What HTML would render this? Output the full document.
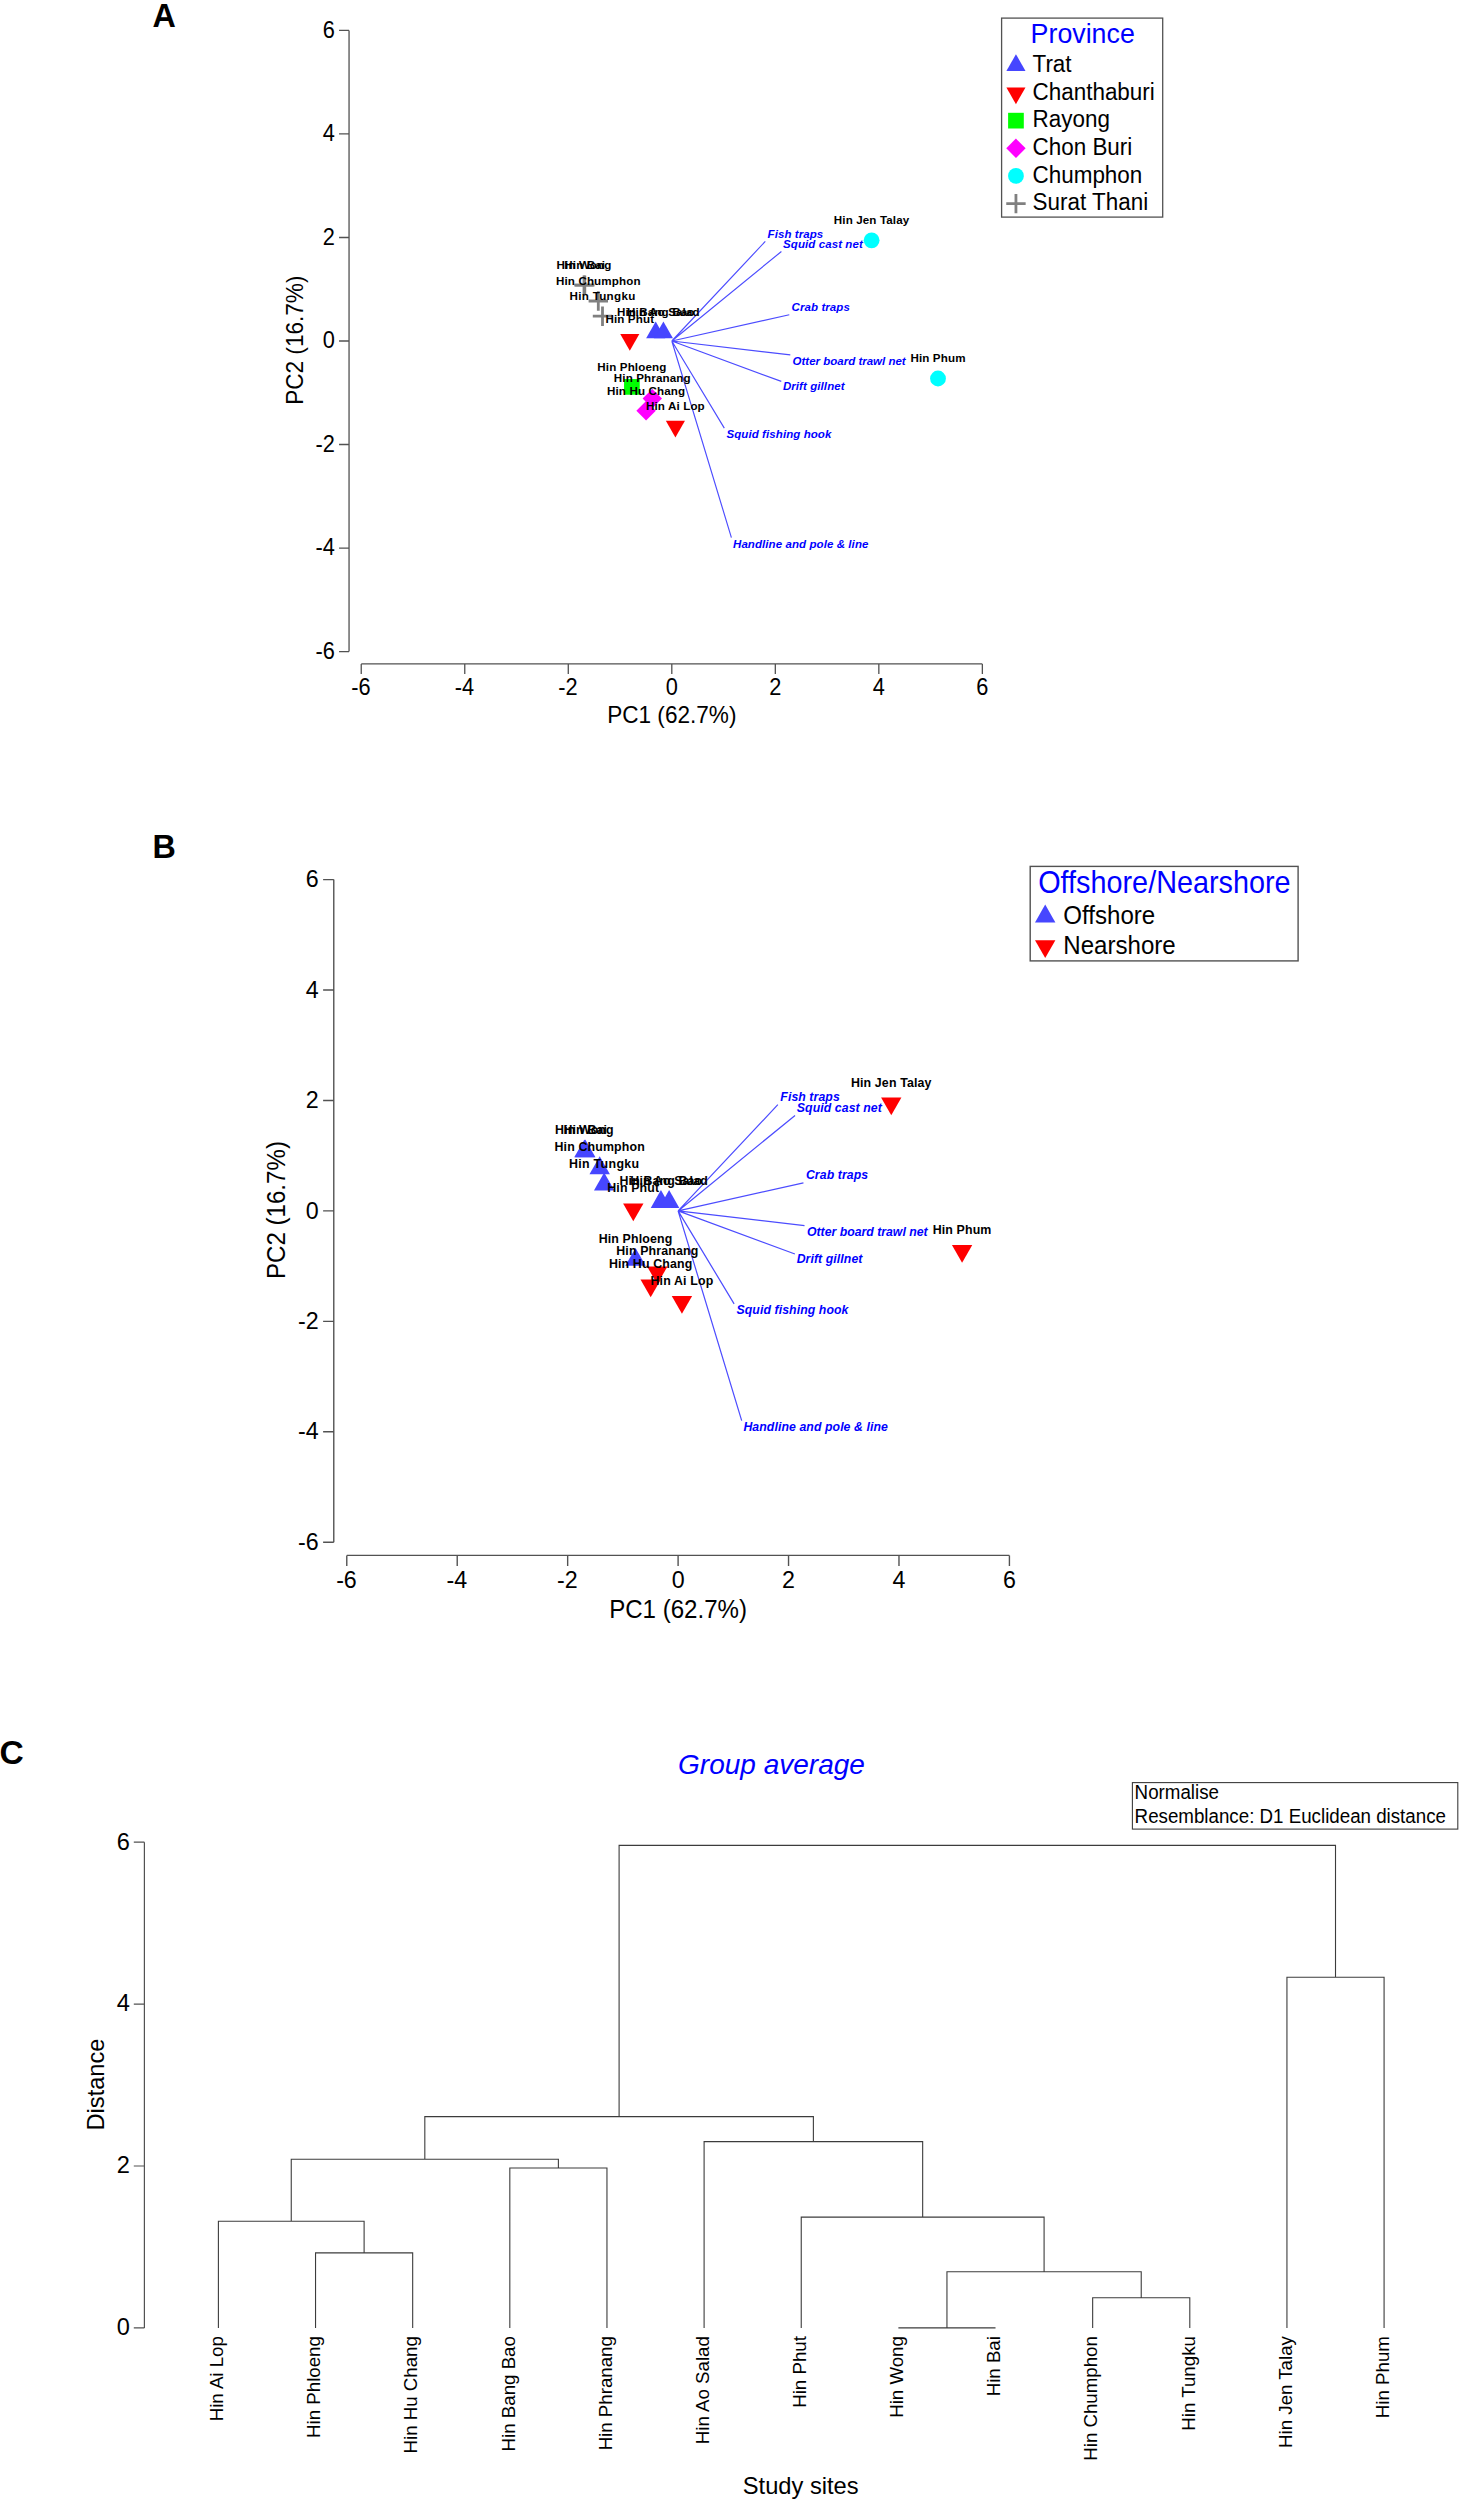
<!DOCTYPE html>
<html><head><meta charset="utf-8"><title>Figure</title>
<style>
html,body{margin:0;padding:0;background:#fff;}
body{width:1459px;height:2500px;overflow:hidden;}
svg{display:block;font-family:"Liberation Sans",sans-serif;}
</style></head>
<body>
<svg width="1459" height="2500" viewBox="0 0 1459 2500">
<rect width="1459" height="2500" fill="#ffffff"/>
<g stroke="#525252" stroke-width="1.3" fill="none">
<path d="M349.05 30.44V651.56M339.05 651.56H349.05M339.05 548.04H349.05M339.05 444.52H349.05M339.05 341H349.05M339.05 237.48H349.05M339.05 133.96H349.05M339.05 30.44H349.05M361.24 663.9H982.36M361.24 663.9V673.9M464.76 663.9V673.9M568.28 663.9V673.9M671.8 663.9V673.9M775.32 663.9V673.9M878.84 663.9V673.9M982.36 663.9V673.9"/></g>
<text transform="translate(334.95 658.76) scale(1 1.065)" font-size="21.8" text-anchor="end">-6</text>
<text transform="translate(360.94 694.8) scale(1 1.065)" font-size="21.8" text-anchor="middle">-6</text>
<text transform="translate(334.95 555.24) scale(1 1.065)" font-size="21.8" text-anchor="end">-4</text>
<text transform="translate(464.46 694.8) scale(1 1.065)" font-size="21.8" text-anchor="middle">-4</text>
<text transform="translate(334.95 451.72) scale(1 1.065)" font-size="21.8" text-anchor="end">-2</text>
<text transform="translate(567.98 694.8) scale(1 1.065)" font-size="21.8" text-anchor="middle">-2</text>
<text transform="translate(334.95 348.2) scale(1 1.065)" font-size="21.8" text-anchor="end">0</text>
<text transform="translate(671.8 694.8) scale(1 1.065)" font-size="21.8" text-anchor="middle">0</text>
<text transform="translate(334.95 244.68) scale(1 1.065)" font-size="21.8" text-anchor="end">2</text>
<text transform="translate(775.32 694.8) scale(1 1.065)" font-size="21.8" text-anchor="middle">2</text>
<text transform="translate(334.95 141.16) scale(1 1.065)" font-size="21.8" text-anchor="end">4</text>
<text transform="translate(878.84 694.8) scale(1 1.065)" font-size="21.8" text-anchor="middle">4</text>
<text transform="translate(334.95 37.64) scale(1 1.065)" font-size="21.8" text-anchor="end">6</text>
<text transform="translate(982.36 694.8) scale(1 1.065)" font-size="21.8" text-anchor="middle">6</text>
<text transform="translate(671.8 722.9) scale(1 1.065)" font-size="22.6" text-anchor="middle">PC1 (62.7%)</text>
<text transform="translate(303.1 340.2) rotate(-90) scale(1 1.065)" font-size="22.6" text-anchor="middle">PC2 (16.7%)</text>
<path d="M671.8 341L765.3 241.4M671.8 341L781.4 251.5M671.8 341L789.3 314.7M671.8 341L790.3 354.9M671.8 341L781.3 381.4M671.8 341L724.3 428.1M671.8 341L731.4 537.6" stroke="#4c4cff" stroke-width="1.15" fill="none"/>
<circle cx="871.6" cy="240.3" r="7.9" fill="#00ffff"/>
<circle cx="938" cy="378.5" r="7.9" fill="#00ffff"/>
<path d="M574.3 285.1H593.7M584 275.4V294.8" stroke="#808080" stroke-width="2.8" fill="none"/>
<path d="M575.1 285.1H594.5M584.8 275.4V294.8" stroke="#808080" stroke-width="2.8" fill="none"/>
<path d="M588.6 301H608M598.3 291.3V310.7" stroke="#808080" stroke-width="2.8" fill="none"/>
<path d="M592.8 316.2H612.2M602.5 306.5V325.9" stroke="#808080" stroke-width="2.8" fill="none"/>
<path d="M646.15 338.17L665.25 338.17L655.7 321.47Z" fill="#4646ff"/>
<path d="M653.85 338.17L672.95 338.17L663.4 321.47Z" fill="#4646ff"/>
<path d="M620.25 334.03L639.35 334.03L629.8 350.73Z" fill="#ff0000"/>
<rect x="624.05" y="379.05" width="15.7" height="15.7" fill="#00ff00"/>
<path d="M642.6 398.6L652.3 388.9L662 398.6L652.3 408.3Z" fill="#ff00ff"/>
<path d="M636.4 410.8L646.1 401.1L655.8 410.8L646.1 420.5Z" fill="#ff00ff"/>
<path d="M665.85 420.73L684.95 420.73L675.4 437.43Z" fill="#ff0000"/>
<g font-size="11.5" font-weight="bold" font-style="italic" fill="#0000ff" letter-spacing="0.08">
<text x="767.6" y="237.8">Fish traps</text>
<text x="783.1" y="247.7">Squid cast net</text>
<text x="791.6" y="310.5">Crab traps</text>
<text x="792.6" y="364.6" letter-spacing="0">Otter board trawl net</text>
<text x="782.9" y="390">Drift gillnet</text>
<text x="726.5" y="437.7">Squid fishing hook</text>
<text x="733" y="548.2">Handline and pole &amp; line</text>
</g>
<g font-size="11.6" font-weight="bold" fill="#000" text-anchor="middle" letter-spacing="0.13">
<text x="871.6" y="224.1">Hin Jen Talay</text>
<text x="938" y="362.3">Hin Phum</text>
<text x="584" y="268.9">Hin Wong</text>
<text x="584.8" y="268.9">Hin Bai</text>
<text x="598.3" y="284.8">Hin Chumphon</text>
<text x="602.5" y="300" letter-spacing="0.32">Hin Tungku</text>
<text x="655.7" y="316.4">Hin Bang Bao</text>
<text x="663.4" y="316.4">Hin Ao Salad</text>
<text x="629.8" y="323.4">Hin Phut</text>
<text x="631.9" y="370.7">Hin Phloeng</text>
<text x="652.3" y="382.4">Hin Phranang</text>
<text x="646.1" y="394.6">Hin Hu Chang</text>
<text x="675.4" y="410.1">Hin Ai Lop</text>
</g>
<g stroke="#525252" stroke-width="1.39" fill="none">
<path d="M333.78 879.58V1542.22M323.11 1542.22H333.78M323.11 1431.78H333.78M323.11 1321.34H333.78M323.11 1210.9H333.78M323.11 1100.46H333.78M323.11 990.02H333.78M323.11 879.58H333.78M346.78 1555.38H1009.42M346.78 1555.38V1566.05M457.22 1555.38V1566.05M567.66 1555.38V1566.05M678.1 1555.38V1566.05M788.54 1555.38V1566.05M898.98 1555.38V1566.05M1009.42 1555.38V1566.05"/></g>
<text transform="translate(318.73 1549.9) scale(1 1.065)" font-size="23.26" text-anchor="end">-6</text>
<text transform="translate(346.46 1588.35) scale(1 1.065)" font-size="23.26" text-anchor="middle">-6</text>
<text transform="translate(318.73 1439.46) scale(1 1.065)" font-size="23.26" text-anchor="end">-4</text>
<text transform="translate(456.9 1588.35) scale(1 1.065)" font-size="23.26" text-anchor="middle">-4</text>
<text transform="translate(318.73 1329.02) scale(1 1.065)" font-size="23.26" text-anchor="end">-2</text>
<text transform="translate(567.34 1588.35) scale(1 1.065)" font-size="23.26" text-anchor="middle">-2</text>
<text transform="translate(318.73 1218.58) scale(1 1.065)" font-size="23.26" text-anchor="end">0</text>
<text transform="translate(678.1 1588.35) scale(1 1.065)" font-size="23.26" text-anchor="middle">0</text>
<text transform="translate(318.73 1108.14) scale(1 1.065)" font-size="23.26" text-anchor="end">2</text>
<text transform="translate(788.54 1588.35) scale(1 1.065)" font-size="23.26" text-anchor="middle">2</text>
<text transform="translate(318.73 997.7) scale(1 1.065)" font-size="23.26" text-anchor="end">4</text>
<text transform="translate(898.98 1588.35) scale(1 1.065)" font-size="23.26" text-anchor="middle">4</text>
<text transform="translate(318.73 887.26) scale(1 1.065)" font-size="23.26" text-anchor="end">6</text>
<text transform="translate(1009.42 1588.35) scale(1 1.065)" font-size="23.26" text-anchor="middle">6</text>
<text transform="translate(678.1 1618.33) scale(1 1.065)" font-size="24.11" text-anchor="middle">PC1 (62.7%)</text>
<text transform="translate(284.75 1210.05) rotate(-90) scale(1 1.065)" font-size="24.11" text-anchor="middle">PC2 (16.7%)</text>
<path d="M678.1 1210.9L777.85 1104.64M678.1 1210.9L795.03 1115.42M678.1 1210.9L803.45 1182.84M678.1 1210.9L804.52 1225.73M678.1 1210.9L794.92 1254M678.1 1210.9L734.11 1303.82M678.1 1210.9L741.68 1420.64" stroke="#4c4cff" stroke-width="1.23" fill="none"/>
<path d="M881.07 1097.53L901.44 1097.53L891.26 1115.35Z" fill="#ff0000"/>
<path d="M951.91 1244.97L972.28 1244.97L962.09 1262.78Z" fill="#ff0000"/>
<path d="M574.24 1157.2L594.62 1157.2L584.43 1139.39Z" fill="#4646ff"/>
<path d="M575.1 1157.2L595.47 1157.2L585.28 1139.39Z" fill="#4646ff"/>
<path d="M589.5 1174.16L609.88 1174.16L599.69 1156.35Z" fill="#4646ff"/>
<path d="M593.98 1190.38L614.36 1190.38L604.17 1172.56Z" fill="#4646ff"/>
<path d="M650.74 1207.88L671.11 1207.88L660.92 1190.06Z" fill="#4646ff"/>
<path d="M658.95 1207.88L679.33 1207.88L669.14 1190.06Z" fill="#4646ff"/>
<path d="M623.1 1203.47L643.48 1203.47L633.29 1221.28Z" fill="#ff0000"/>
<path d="M625.34 1265.81L645.72 1265.81L635.53 1247.99Z" fill="#4646ff"/>
<path d="M647.11 1266.41L667.48 1266.41L657.3 1284.23Z" fill="#ff0000"/>
<path d="M640.49 1279.43L660.87 1279.43L650.68 1297.24Z" fill="#ff0000"/>
<path d="M671.75 1295.96L692.13 1295.96L681.94 1313.78Z" fill="#ff0000"/>
<g font-size="12.27" font-weight="bold" font-style="italic" fill="#0000ff" letter-spacing="0.09">
<text x="780.3" y="1101.4">Fish traps</text>
<text x="796.84" y="1111.92">Squid cast net</text>
<text x="805.91" y="1178.67">Crab traps</text>
<text x="806.98" y="1236.17" letter-spacing="0">Otter board trawl net</text>
<text x="796.63" y="1263.17">Drift gillnet</text>
<text x="736.46" y="1313.87">Squid fishing hook</text>
<text x="743.39" y="1431.32">Handline and pole &amp; line</text>
</g>
<g font-size="12.38" font-weight="bold" fill="#000" text-anchor="middle" letter-spacing="0.14">
<text x="891.26" y="1086.84">Hin Jen Talay</text>
<text x="962.09" y="1233.73">Hin Phum</text>
<text x="584.43" y="1134.45">Hin Wong</text>
<text x="585.28" y="1134.45">Hin Bai</text>
<text x="599.69" y="1151.35">Hin Chumphon</text>
<text x="604.17" y="1167.51" letter-spacing="0.34">Hin Tungku</text>
<text x="660.92" y="1184.94">Hin Bang Bao</text>
<text x="669.14" y="1184.94">Hin Ao Salad</text>
<text x="633.29" y="1192.38">Hin Phut</text>
<text x="635.53" y="1242.66">Hin Phloeng</text>
<text x="657.3" y="1255.09">Hin Phranang</text>
<text x="650.68" y="1268.06">Hin Hu Chang</text>
<text x="681.94" y="1284.54">Hin Ai Lop</text>
</g>
<rect x="1001.6" y="18.1" width="161.1" height="199" fill="#fff" stroke="#525252" stroke-width="1.3"/>
<text transform="translate(1082.7 43) scale(1 1.065)" font-size="26.8" text-anchor="middle" fill="#0000ff">Province</text>
<path d="M1006.4 70.92L1025.5 70.92L1015.95 54.22Z" fill="#4646ff"/>
<text transform="translate(1032.5 72.1) scale(1 1.065)" font-size="22.45">Trat</text>
<path d="M1006.4 87.43L1025.5 87.43L1015.95 104.13Z" fill="#ff0000"/>
<text transform="translate(1032.5 99.75) scale(1 1.065)" font-size="22.45">Chanthaburi</text>
<rect x="1008.1" y="112.8" width="15.7" height="15.7" fill="#00ff00"/>
<text transform="translate(1032.5 127.4) scale(1 1.065)" font-size="22.45">Rayong</text>
<path d="M1006.25 148.3L1015.95 138.6L1025.65 148.3L1015.95 158Z" fill="#ff00ff"/>
<text transform="translate(1032.5 155.05) scale(1 1.065)" font-size="22.45">Chon Buri</text>
<circle cx="1015.95" cy="175.95" r="7.9" fill="#00ffff"/>
<text transform="translate(1032.5 182.7) scale(1 1.065)" font-size="22.45">Chumphon</text>
<path d="M1006.25 203.6H1025.65M1015.95 193.9V213.3" stroke="#808080" stroke-width="2.8" fill="none"/>
<text transform="translate(1032.5 210.35) scale(1 1.065)" font-size="22.45">Surat Thani</text>
<rect x="1030.2" y="866.4" width="267.9" height="94.5" fill="#fff" stroke="#525252" stroke-width="1.4"/>
<text transform="translate(1164.4 892.8) scale(1 1.065)" font-size="28.8" text-anchor="middle" fill="#0000ff">Offshore/Nearshore</text>
<path d="M1035.01 922.44L1055.39 922.44L1045.2 904.62Z" fill="#4646ff"/>
<path d="M1035.01 940.26L1055.39 940.26L1045.2 958.08Z" fill="#ff0000"/>
<text transform="translate(1063.3 923.5) scale(1 1.065)" font-size="24.1">Offshore</text>
<text transform="translate(1063.3 953.5) scale(1 1.065)" font-size="24.1">Nearshore</text>
<g font-size="32.3" font-weight="bold">
<text x="152.4" y="27.3">A</text>
<text x="152.4" y="857.6">B</text>
<text x="-0.4" y="1764" font-size="33.6">C</text>
</g>
<path d="M315.54 2327.9V2252.9H412.68V2327.9M218.4 2327.9V2221.2H364.11V2252.9M509.82 2327.9V2168H606.96V2327.9M291.25 2221.2V2159.3H558.39V2168M898.38 2327.9V2327.9H995.52V2327.9M1092.66 2327.9V2297.7H1189.8V2327.9M946.95 2327.9V2271.7H1141.23V2297.7M801.24 2327.9V2217.1H1044.09V2271.7M704.1 2327.9V2141.6H922.67V2217.1M424.82 2159.3V2116.6H813.38V2141.6M1286.94 2327.9V1977.3H1384.08V2327.9M619.1 2116.6V1845.4H1335.51V1977.3" stroke="#3c3c3c" stroke-width="1.1" fill="none"/>
<path d="M144.4 1842.2V2327.9M133.8 2327.9H144.4M133.8 2166H144.4M133.8 2004.1H144.4M133.8 1842.2H144.4" stroke="#525252" stroke-width="1.2" fill="none"/>
<g font-size="23.6" text-anchor="end">
<text x="129.8" y="2335.2">0</text>
<text x="129.8" y="2173.3">2</text>
<text x="129.8" y="2011.4">4</text>
<text x="129.8" y="1849.5">6</text>
</g>
<text transform="translate(103.5 2084.55) rotate(-90)" font-size="23.6" text-anchor="middle">Distance</text>
<text x="800.7" y="2494.4" font-size="23.7" text-anchor="middle">Study sites</text>
<text x="771.5" y="1773.5" font-size="28" font-style="italic" fill="#0000ff" text-anchor="middle">Group average</text>
<rect x="1132.4" y="1782.6" width="325.4" height="46.5" fill="#fff" stroke="#3c3c3c" stroke-width="1.1"/>
<text transform="translate(1134.6 1799.1) scale(1 1.03)" font-size="18.75">Normalise</text>
<text transform="translate(1134.6 1822.5) scale(1 1.03)" font-size="18.75">Resemblance: D1 Euclidean distance</text>
<g font-size="18.7" text-anchor="end">
<text transform="translate(223.2 2336.1) rotate(-90) scale(1 1.03)">Hin Ai Lop</text>
<text transform="translate(320.34 2336.1) rotate(-90) scale(1 1.03)">Hin Phloeng</text>
<text transform="translate(417.48 2336.1) rotate(-90) scale(1 1.03)">Hin Hu Chang</text>
<text transform="translate(514.62 2336.1) rotate(-90) scale(1 1.03)">Hin Bang Bao</text>
<text transform="translate(611.76 2336.1) rotate(-90) scale(1 1.03)">Hin Phranang</text>
<text transform="translate(708.9 2336.1) rotate(-90) scale(1 1.03)">Hin Ao Salad</text>
<text transform="translate(806.04 2336.1) rotate(-90) scale(1 1.03)">Hin Phut</text>
<text transform="translate(903.18 2336.1) rotate(-90) scale(1 1.03)">Hin Wong</text>
<text transform="translate(1000.32 2336.1) rotate(-90) scale(1 1.03)">Hin Bai</text>
<text transform="translate(1097.46 2336.1) rotate(-90) scale(1 1.03)">Hin Chumphon</text>
<text transform="translate(1194.6 2336.1) rotate(-90) scale(1 1.03)">Hin Tungku</text>
<text transform="translate(1291.74 2336.1) rotate(-90) scale(1 1.03)">Hin Jen Talay</text>
<text transform="translate(1388.88 2336.1) rotate(-90) scale(1 1.03)">Hin Phum</text>
</g>
</svg>
</body></html>
